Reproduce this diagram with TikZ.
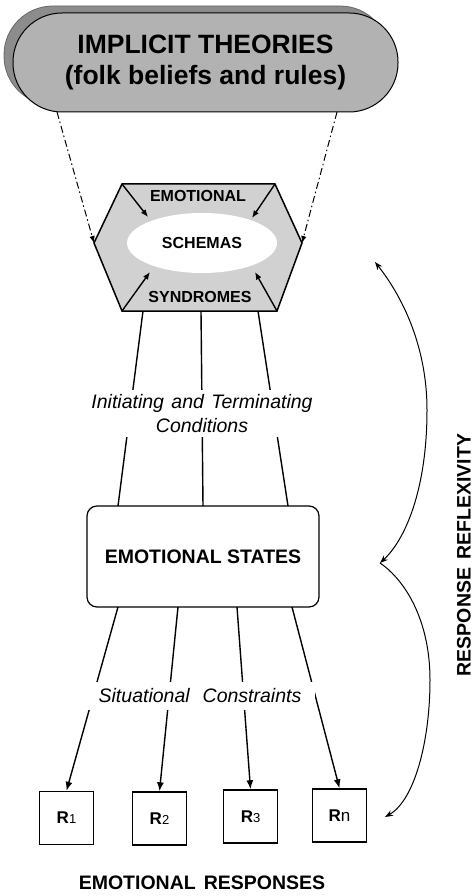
\documentclass[tikz,border=0pt]{standalone}
\usepackage{fontspec}
\setmainfont{Liberation Sans}
\usetikzlibrary{arrows.meta,shadows,shapes.geometric,calc}
\begin{document}
\begin{tikzpicture}[x=1pt,y=-1pt,
  thline/.style={line width=1.4pt},
  bighead/.style={-{Latex[length=9pt,width=7pt]}},
  smallhead/.style={-{Latex[length=7.5pt,width=6pt]}},
  topbox/.style={draw, line width=1pt, fill=black!30, rounded corners=49pt,
    minimum width=385pt, minimum height=99pt, align=center,
    font=\fontsize{26.5}{31}\selectfont\bfseries},
  statebox/.style={draw, line width=1.2pt, rounded corners=10pt,
    minimum width=232pt, minimum height=101pt,
    font=\fontsize{19.5}{23}\selectfont\bfseries},
  rbox/.style={draw, line width=1.4pt, minimum width=54pt, minimum height=53pt,
    inner sep=0pt, font=\fontsize{17}{17}\selectfont},
  hexlabel/.style={font=\fontsize{16}{16}\selectfont\bfseries, inner sep=1pt},
  condlabel/.style={fill=white, align=center, font=\fontsize{19.5}{23.5}\selectfont\itshape},
  capt/.style={font=\fontsize{19.5}{19.5}\selectfont\bfseries},
  dashdot/.style={line width=1pt, dash pattern=on 7pt off 3pt on 1.5pt off 3pt},
  curvearrow/.style={line width=1pt},
  bothheads/.style={{Stealth[length=8pt,width=6pt]}-{Stealth[length=8pt,width=6pt]}},
  endhead/.style={-{Stealth[length=8pt,width=6pt]}}
]
\useasboundingbox (0,0) rectangle (474,896);

% top box with shadow
\node[topbox, copy shadow={shadow xshift=-9pt, shadow yshift=7pt, fill=black!45, draw=black!60, line width=0.8pt}]
  (theory) at (205.5,62.5) {IMPLICIT THEORIES\\(folk beliefs and rules)};

% hexagon
\coordinate (h1) at (122,184);
\coordinate (h2) at (275,184);
\coordinate (h3) at (302,243);
\coordinate (h4) at (277,311);
\coordinate (h5) at (122,311);
\coordinate (h6) at (94,243);
\draw[line width=1.5pt, fill=black!18, line join=miter] (h1)--(h2)--(h3)--(h4)--(h5)--(h6)--cycle;
\node[ellipse, fill=white, minimum width=150pt, minimum height=60pt, inner sep=0pt,
  font=\fontsize{16}{16}\selectfont\bfseries] (schemas) at (202,243) {SCHEMAS};
\node[hexlabel] (emo) at (198,196) {EMOTIONAL};
\node[hexlabel] (syn) at (200,297) {SYNDROMES};

\coordinate (a1) at (148,217);
\coordinate (a2) at (252,218);
\coordinate (a3) at (150,272);
\coordinate (a4) at (255,272);
\draw[thline, smallhead] (h1) -- (a1);
\draw[thline, smallhead] (h2) -- (a2);
\draw[thline, smallhead] (h5) -- (a3);
\draw[thline, smallhead] (h4) -- (a4);

% dash-dot connectors
\coordinate (d1) at (57,112);
\coordinate (d2) at (337,112);
\draw[dashdot, -{Latex[length=7pt,width=5.5pt]}] (d1) -- (h6);
\draw[dashdot, -{Latex[length=7pt,width=5.5pt]}] (d2) -- (h3);

% emotional states
\node[statebox] (states) at (203,556.5) {EMOTIONAL STATES};

\coordinate (b1) at (143,311);
\coordinate (b2) at (201,311);
\coordinate (b3) at (258,311);
\coordinate (s1) at (118,506);
\coordinate (s2) at (203,506);
\coordinate (s3) at (288,506);
\draw[thline] (b1) -- (s1);
\draw[thline] (b2) -- (s2);
\draw[thline] (b3) -- (s3);

% responses
\node[rbox] (r1) at (66.5,818) {\textbf{R}\fontsize{13}{13}\selectfont 1};
\node[rbox] (r2) at (159.5,818.5) {\textbf{R}\fontsize{13}{13}\selectfont 2};
\node[rbox] (r3) at (250.5,816.5) {\textbf{R}\fontsize{13}{13}\selectfont 3};
\node[rbox] (rn) at (339.5,815.5) {\textbf{R}\fontsize{17}{17}\selectfont n};

\coordinate (t1) at (118,607);
\coordinate (t2) at (178,607);
\coordinate (t3) at (237,607);
\coordinate (t4) at (292,607);
\draw[thline, bighead] (t1) -- (r1.north);
\draw[thline, bighead] (t2) -- (r2.north);
\draw[thline, bighead] (t3) -- (r3.north);
\draw[thline, bighead] (t4) -- (rn.north);

% labels over the connectors
\node[condlabel, inner xsep=4pt, inner ysep=5pt] (cond) at (202,413.5)
  {Initiating\hspace{2pt} and\hspace{2pt} Terminating\\Conditions};
\node[condlabel, inner xsep=14pt, inner ysep=7pt] (sit) at (200,696)
  {Situational\hspace{13pt}Constraints};

\node[capt] (resp) at (202,883) {EMOTIONAL\hspace{8pt}RESPONSES};
\node[capt, rotate=90] (refl) at (464,555) {RESPONSE\hspace{3pt} REFLEXIVITY};

% reflexivity curves
\coordinate (c1) at (375,262);
\coordinate (c2) at (380,563);
\coordinate (c3) at (385,817);
\draw[curvearrow, bothheads] (c1) .. controls (405,300) and (427,350) .. (427,410)
  .. controls (427,490) and (405,540) .. (c2);
\draw[curvearrow, endhead] (c2) .. controls (405,580) and (430,620) .. (430,680)
  .. controls (430,740) and (415,800) .. (c3);
\end{tikzpicture}
\end{document}
